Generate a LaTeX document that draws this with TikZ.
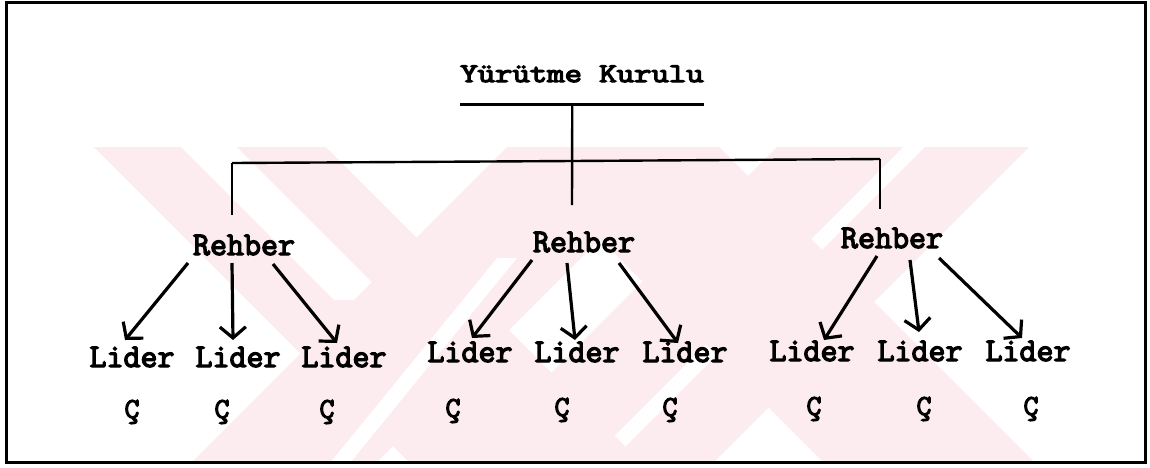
\documentclass[tikz,border=0pt]{standalone}
\usepackage{fontspec}
\newfontfamily\headfont[FakeStretch=1.25,FakeBold=5]{Latin Modern Mono}
\newfontfamily\typefont[FakeBold=4]{Latin Modern Mono}
\usetikzlibrary{arrows.meta,calc}
\definecolor{wmpink}{RGB}{252,235,239}
\begin{document}
\begin{tikzpicture}[x=1pt,y=-1pt,
  headlbl/.style={font=\headfont\fontsize{27}{29}\selectfont,inner sep=0pt,anchor=base},
  lbl/.style={font=\typefont\fontsize{33}{35}\selectfont,inner sep=0pt,anchor=base},
  clbl/.style={font=\typefont\fontsize{29}{31}\selectfont,inner sep=0pt,anchor=base},
  tree/.style={line width=2.4pt},
  arr/.style={line width=3.2pt,-{Straight Barb[length=11pt,width=26pt]}},
  frame/.style={line width=3pt}]
\useasboundingbox (0,0) rectangle (1150,467);

% faint background marks
\begin{scope}
  \clip (60,147) rectangle (1110,462);
  \fill[wmpink] (94,147) -- (181,147) -- (497,463) -- (410,463) -- cycle;
  \fill[wmpink] (237,147) -- (326,147) -- (642,463) -- (553,463) -- cycle;
  \fill[wmpink] (334,300) -- (390,300) -- (553,463) -- (497,463) -- cycle;
  \fill[wmpink] (507,147) -- (692,147) -- (376,463) -- (191,463) -- cycle;
  \fill[wmpink] (777,147) -- (903,147) -- (587,463) -- (461,463) -- cycle;
  \fill[wmpink] (925,147) -- (1029,147) -- (713,463) -- (609,463) -- cycle;
  \fill[wmpink] (508,147) -- (719,147) -- (1035,463) -- (824,463) -- cycle;
  \fill[white] (497,258) -- (517,258) -- (350,463) -- (330,463) -- cycle;
\end{scope}

% outer frame
\draw[frame] (6,2) rectangle (1145,462);

% top of the hierarchy
\node[headlbl] (yk) at (582,82) {Yürütme Kurulu};
\coordinate (ykl) at ($(yk.base west)+(0,22)$);
\coordinate (ykr) at ($(yk.base east)+(0,22)$);
\draw[line width=3pt] (ykl) -- (ykr);

% guides
\node[lbl] (r1) at (244,255) {Rehber};
\node[lbl] (r2) at (584,252) {Rehber};
\node[lbl] (r3) at (892,248) {Rehber};

% branching lines
\coordinate (bm) at (572,161);
\coordinate (bl) at (232,163);
\coordinate (br) at (880,159);
\draw[tree] ($(ykl)!0.46!(ykr)$) -- (572,205);
\draw[tree] (bl) -- (bm) -- (br);
\draw[tree] (bl) -- ($(r1.north)+(-12,-20)$);
\draw[tree] (br) -- ($(r3.north)+(-12,-19)$);

% leaders
\node[lbl] (l1) at (132,367) {Lider};
\node[lbl] (l2) at (238,367) {Lider};
\node[lbl] (l3) at (344,367) {Lider};
\node[lbl] (l4) at (470,362) {Lider};
\node[lbl] (l5) at (577,362) {Lider};
\node[lbl] (l6) at (685,362) {Lider};
\node[lbl] (l7) at (812,361) {Lider};
\node[lbl] (l8) at (920,361) {Lider};
\node[lbl] (l9) at (1028,361) {Lider};

% groups
\node[clbl] (c1) at (132,418) {Ç};
\node[clbl] (c2) at (222,418) {Ç};
\node[clbl] (c3) at (327,418) {Ç};
\node[clbl] (c4) at (453,417) {Ç};
\node[clbl] (c5) at (562,416) {Ç};
\node[clbl] (c6) at (670,416) {Ç};
\node[clbl] (c7) at (814,415) {Ç};
\node[clbl] (c8) at (924,415) {Ç};
\node[clbl] (c9) at (1031,415) {Ç};

% guide -> leader arrows
\draw[arr] ($(r1.base)+(-56,8)$) -- ($(l1.base)+(-7,-27)$);
\draw[arr] ($(r1.base)+(-12,8)$) -- ($(l2.base)+(-5,-27)$);
\draw[arr] ($(r1.base)+(29,9)$)  -- ($(l3.base)+(-7,-24)$);
\draw[arr] ($(r2.base)+(-52,8)$) -- ($(l4.base)+(2,-24)$);
\draw[arr] ($(r2.base)+(-17,11)$) -- ($(l5.base)+(-2,-22)$);
\draw[arr] ($(r2.base)+(35,11)$) -- ($(l6.base)+(-7,-19)$);
\draw[arr] ($(r3.base)+(-15,8)$) -- ($(l7.base)+(12,-21)$);
\draw[arr] ($(r3.base)+(18,12)$) -- ($(l8.base)+(-1,-29)$);
\draw[arr] ($(r3.base)+(47,10)$) -- ($(l9.base)+(-6,-23)$);
\end{tikzpicture}
\end{document}
